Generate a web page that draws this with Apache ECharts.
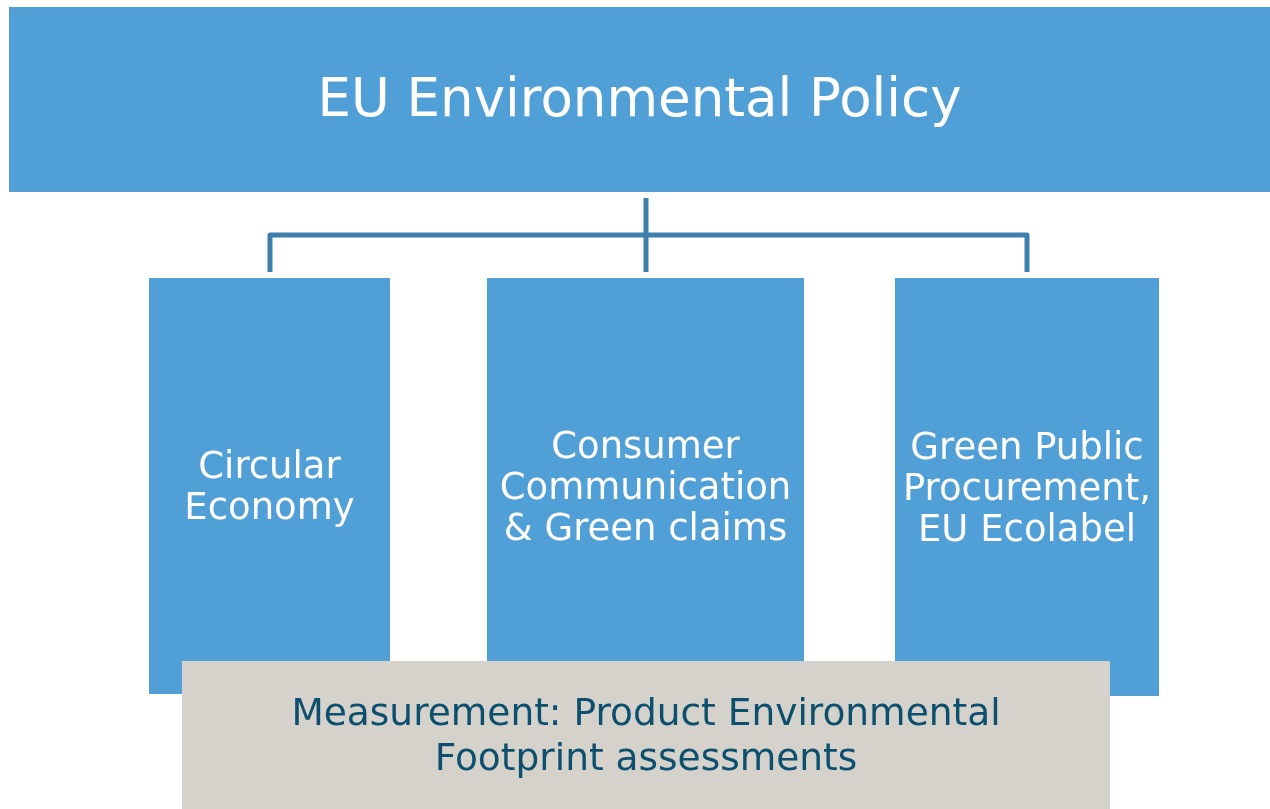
<!DOCTYPE html>
<html>
<head>
<meta charset="utf-8">
<title>EU Environmental Policy</title>
<script src="https://cdn.jsdelivr.net/npm/echarts@6/dist/echarts.min.js"></script>
<style>
  html, body { margin: 0; padding: 0; background: #fff; }
  #chart { width: 1270px; height: 809px; }
</style>
</head>
<body>
<div id="chart"></div>
<script>
// boxes of the diagram: [left, top, right, bottom] in page units
const boxNames = ['EU Environmental Policy', 'Circular\nEconomy', 'Consumer\nCommunication\n& Green claims', 'Green Public\nProcurement,\nEU Ecolabel', 'Measurement: Product Environmental\nFootprint assessments'];
const boxRects = [
  [9, 7, 1270, 192],
  [149, 278, 390, 694],
  [487, 278, 804, 694],
  [895, 278, 1159, 696],
  [182, 661, 1110, 809]
];
const boxKind = ['title', 'branch', 'branch', 'branch', 'base'];
// connector lines from the title to the three branches
const connectors = [
  [[646, 198], [646, 272]],
  [[270, 272], [270, 235], [1027, 235], [1027, 272]]
];

const chart = echarts.init(document.getElementById('chart'));

const kindStyle = {
  title: { fill: '#50a0d7', text: '#ffffff', size: 53, lh: 60 },
  branch: { fill: '#50a0d7', text: '#ffffff', size: 37, lh: 41 },
  base: { fill: '#d4d2ca', text: '#0c4f6e', size: 37.5, lh: 45 }
};

function renderBox(params, api) {
  const i = params.dataIndex;
  const r = boxRects[i];
  const p0 = api.coord([r[0], r[1]]);
  const p1 = api.coord([r[2], r[3]]);
  const st = kindStyle[boxKind[i]];
  return {
    type: 'group',
    children: [
      {
        type: 'rect',
        shape: { x: p0[0], y: p0[1], width: p1[0] - p0[0], height: p1[1] - p0[1] },
        style: { fill: st.fill }
      },
      {
        type: 'text',
        style: {
          text: boxNames[i],
          x: (p0[0] + p1[0]) / 2,
          y: (p0[1] + p1[1]) / 2 + 3,
          align: 'center',
          verticalAlign: 'middle',
          fill: st.text,
          fontFamily: 'DejaVu Sans',
          fontSize: st.size,
          lineHeight: st.lh
        }
      }
    ]
  };
}

function renderLine(params, api) {
  const pts = connectors[params.dataIndex].map(function (p) { return api.coord(p); });
  return {
    type: 'polyline',
    shape: { points: pts },
    style: { stroke: '#3f7fae', lineWidth: 5, fill: null, lineJoin: 'round' }
  };
}

const option = {
  animation: false,
  grid: { left: 0, right: 0, top: 0, bottom: 0 },
  xAxis: { type: 'value', min: 0, max: 1270, show: false },
  yAxis: { type: 'value', min: 0, max: 809, inverse: true, show: false },
  series: [
    {
      type: 'custom',
      renderItem: renderLine,
      data: connectors.map(function (c, i) { return [c[0][0], c[0][1], i]; }),
      z: 1
    },
    {
      type: 'custom',
      renderItem: renderBox,
      data: boxRects.map(function (r) { return r; }),
      encode: { x: [0, 2], y: [1, 3] },
      z: 2
    }
  ]
};
chart.setOption(option);
</script>
</body>
</html>
